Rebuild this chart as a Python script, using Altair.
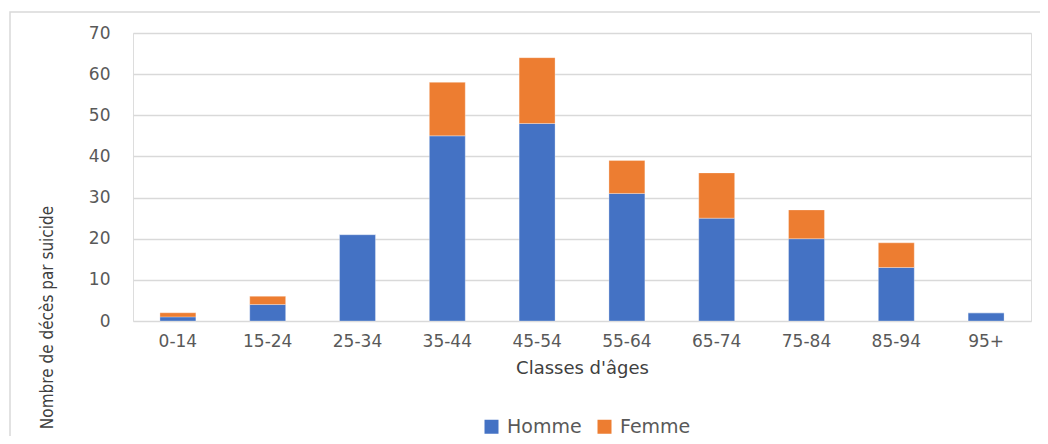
import altair as alt
import pandas as pd

categories = ["0-14", "15-24", "25-34", "35-44", "45-54", "55-64", "65-74", "75-84", "85-94", "95+"]
homme = [1, 4, 21, 45, 48, 31, 25, 20, 13, 2]
femme = [1, 2, 0, 13, 16, 8, 11, 7, 6, 0]
series = ["Homme", "Femme"]
colors = ["#4472C4", "#ED7D31"]

rows = []
for c, h, f in zip(categories, homme, femme):
    rows.append({"classe": c, "sexe": "Homme", "valeur": h, "ordre": 0})
    rows.append({"classe": c, "sexe": "Femme", "valeur": f, "ordre": 1})
df = pd.DataFrame(rows)

W, H = 898, 288
FONT = "DejaVu Sans"

frame = alt.Chart(pd.DataFrame({"a": [0]})).mark_rect(
    fill=None, stroke="#D9D9D9", strokeWidth=1.5
).encode(
    x=alt.value(-123), x2=alt.value(W + 30),
    y=alt.value(-21), y2=alt.value(H + 130)
)

bars = alt.Chart(df).mark_bar(stroke="white", strokeWidth=0.5, strokeOpacity=0.6).encode(
    x=alt.X("classe:N", sort=categories,
            scale=alt.Scale(paddingInner=0.6, paddingOuter=0.3),
            axis=alt.Axis(title="Classes d'âges", labelAngle=0, labelFontSize=17,
                          labelColor="#595959", labelFont=FONT, labelPadding=12,
                          titleFont=FONT, titleFontSize=18, titleFontWeight="normal",
                          titleColor="#404040", titlePadding=10,
                          domain=False, ticks=False, grid=False)),
    y=alt.Y("valeur:Q", stack="zero",
            scale=alt.Scale(domain=[0, 70], nice=False),
            axis=alt.Axis(title="Nombre de décès par suicide", values=[0, 10, 20, 30, 40, 50, 60, 70],
                          labelFontSize=17, labelColor="#595959", labelFont=FONT,
                          labelPadding=23, domain=False, ticks=False,
                          gridColor="#D9D9D9", gridWidth=1.5,
                          titleFont="DejaVu Sans Condensed", titleFontSize=17,
                          titleFontWeight="normal", titleColor="#404040",
                          titleX=-86, titleY=284, titleAngle=-90,
                          titleAlign="center", titleBaseline="middle")),
    color=alt.Color("sexe:N", sort=series,
                    scale=alt.Scale(domain=series, range=colors),
                    legend=alt.Legend(title=None, orient="none", direction="horizontal",
                                      legendX=349, legendY=384, symbolType="square",
                                      symbolSize=196, symbolStrokeWidth=0,
                                      labelFontSize=19, labelFont=FONT,
                                      labelColor="#595959", columnPadding=13,
                                      labelOffset=6)),
    order=alt.Order("ordre:Q")
)

chart = alt.layer(frame, bars).properties(
    width=W, height=H,
    autosize=alt.AutoSizeParams(type="none"),
    padding={"left": 125, "top": 25, "right": 9, "bottom": 115}
).configure_view(stroke=None).configure(background="white")

chart.save("out.html", embed_options={"renderer": "svg", "actions": False})
